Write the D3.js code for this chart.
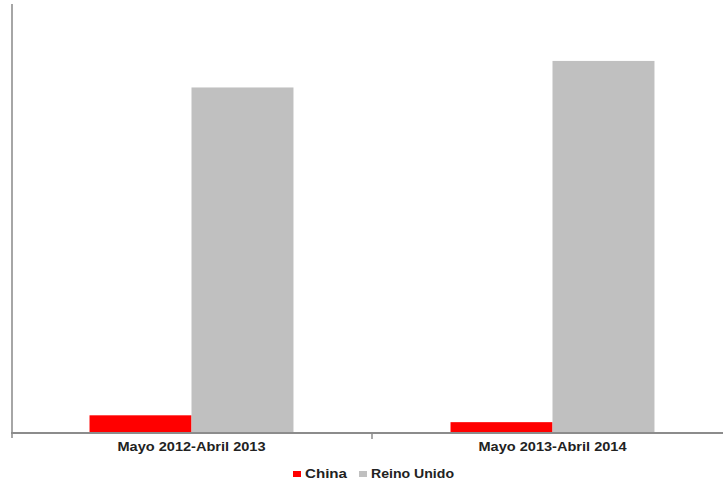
<!DOCTYPE html>
<html><head><meta charset="utf-8">
<script src="https://cdn.jsdelivr.net/npm/d3@7/dist/d3.min.js"></script>
<style>body{margin:0;background:#fff}svg{display:block}</style>
</head><body>
<svg id="c" width="723" height="484"></svg>
<script>
const categories = ["Mayo 2012-Abril 2013", "Mayo 2013-Abril 2014"];
const seriesNames = ["China", "Reino Unido"];
const china = [3.9, 2.3];
const reinoUnido = [80.5, 86.7];
const colors = ["#ff0000", "#c0c0c0"];

const svg = d3.select("#c");
const x0 = d3.scaleBand().domain(categories).range([11, 733]).padding(0);
const x1 = d3.scaleBand().domain(seriesNames).range([0, x0.bandwidth()]).paddingInner(0).paddingOuter(0.77);
const y = d3.scaleLinear().domain([0, 100]).range([432, 4]);
const color = d3.scaleOrdinal().domain(seriesNames).range(colors);

const data = categories.map((c, i) => ({cat: c, vals: [
  {s: seriesNames[0], v: china[i]},
  {s: seriesNames[1], v: reinoUnido[i]}
]}));

const g = svg.selectAll("g.grp").data(data).enter().append("g")
  .attr("transform", d => `translate(${x0(d.cat)},0)`);
g.selectAll("rect").data(d => d.vals).enter().append("rect")
  .attr("x", d => x1(d.s))
  .attr("width", x1.bandwidth())
  .attr("y", d => y(d.v))
  .attr("height", d => y(0) - y(d.v))
  .attr("fill", d => color(d.s));

// y axis line
svg.append("line").attr("x1", 12).attr("x2", 12).attr("y1", y.range()[1]).attr("y2", 438)
  .attr("stroke", "#a6a6a6").attr("stroke-width", 2);
// x axis
svg.append("line").attr("x1", 11).attr("x2", 733).attr("y1", 433).attr("y2", 433)
  .attr("stroke", "#8c8c8c").attr("stroke-width", 2);
// ticks at group boundaries
const bounds = categories.slice(1).map(c => x0(c));
svg.selectAll("line.tk").data(bounds).enter().append("line")
  .attr("x1", d => d).attr("x2", d => d).attr("y1", 433).attr("y2", 439)
  .attr("stroke", "#8c8c8c").attr("stroke-width", 1.5);

// category labels
svg.selectAll("text.cat").data(categories).enter().append("text")
  .attr("x", d => x0(d) + x0.bandwidth() / 2)
  .attr("y", 451)
  .attr("text-anchor", "middle")
  .attr("font-family", "Liberation Sans, Arial, sans-serif")
  .attr("font-size", 12)
  .attr("font-weight", "bold")
  .attr("fill", "#222")
  .attr("textLength", 148).attr("lengthAdjust", "spacingAndGlyphs")
  .text(d => d);

// legend
const leg = [{s: seriesNames[0], x: 293, tx: 305, tl: 42}, {s: seriesNames[1], x: 359, tx: 371, tl: 83}];
const lg = svg.selectAll("g.leg").data(leg).enter().append("g");
lg.append("rect").attr("x", d => d.x).attr("y", 471).attr("width", 8).attr("height", 6)
  .attr("fill", d => color(d.s));
lg.append("text").attr("x", d => d.tx).attr("y", 478)
  .attr("font-family", "Liberation Sans, Arial, sans-serif")
  .attr("font-size", 12).attr("font-weight", "bold").attr("fill", "#222")
  .attr("textLength", d => d.tl).attr("lengthAdjust", "spacingAndGlyphs")
  .text(d => d.s);
</script>
</body></html>
